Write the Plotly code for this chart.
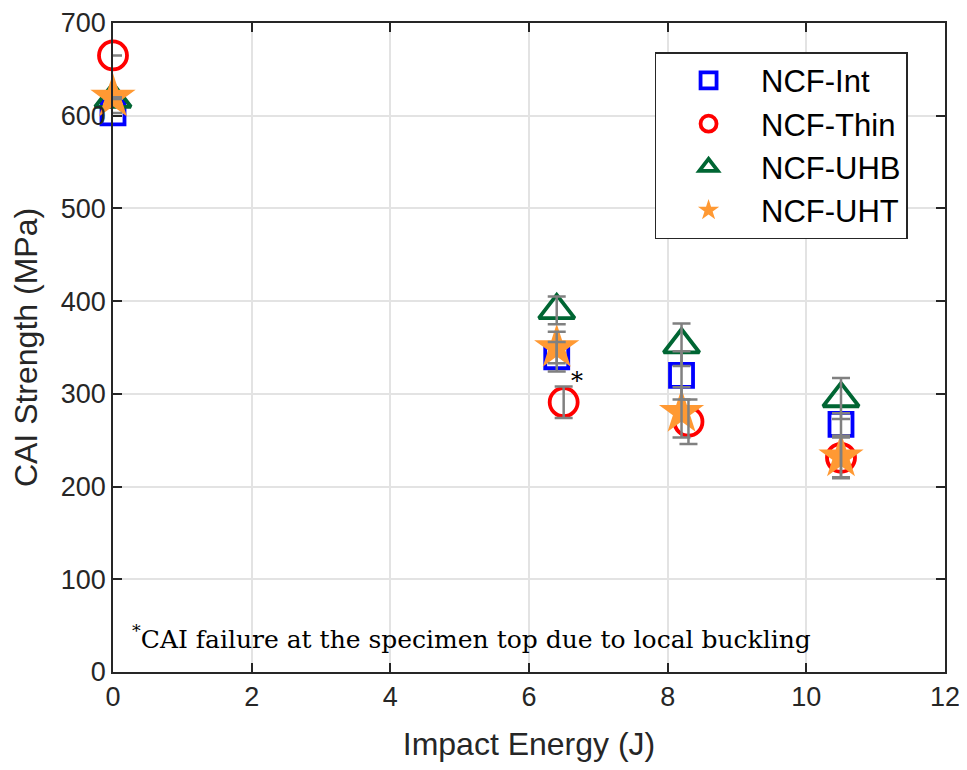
import plotly.graph_objects as go

# ---- data ----
x_int = [0, 6.4, 8.2, 10.5]
y_int = [603, 340, 320, 267]
e_int = [0, 16, 26, 12]

x_thin = [0, 6.5, 8.3, 10.5]
y_thin = [665, 291, 270, 231]
e_thin = [0, 17, 24, 22]

x_uhb = [0, 6.4, 8.2, 10.5]
y_uhb = [618, 390, 353, 295]
e_uhb = [0, 15, 23, 22]

x_uht = [0, 6.4, 8.2, 10.5]
y_uht = [620, 350, 280, 232]
e_uht = [0, 17, 27, 22]

names = ["NCF-Int", "NCF-Thin", "NCF-UHB", "NCF-UHT"]
xs = [x_int, x_thin, x_uhb, x_uht]
ys = [y_int, y_thin, y_uhb, y_uht]
es = [e_int, e_thin, e_uhb, e_uht]
colors = ["#0000FF", "#FF0000", "#006633", "#FF9933"]
symbols = ["square-open", "circle-open", "triangle-up-open", "star"]
sizes = [23, 28, 31, 34]

fig = go.Figure()
for n, x, y, c, s, sz in zip(names, xs, ys, colors, symbols, sizes):
    if s == "star":
        marker = dict(symbol=s, size=sz, color=c, line=dict(width=0))
    else:
        marker = dict(symbol=s, size=sz, color=c, line=dict(width=3.8, color=c))
    fig.add_trace(go.Scatter(x=x, y=y, mode="markers", name=n, marker=marker,
                             cliponaxis=False))

# error bars drawn on top of markers
for x, y, e in zip(xs, ys, es):
    fig.add_trace(go.Scatter(
        x=x, y=y, mode="markers", showlegend=False, hoverinfo="skip",
        marker=dict(size=1, opacity=0), cliponaxis=False,
        error_y=dict(type="data", array=e, visible=True, color="#808080",
                     thickness=2.5, width=9)))

fig.add_annotation(x=6.69, y=314, xref="x", yref="y", text="*", showarrow=False,
                   font=dict(family="DejaVu Serif", size=24, color="black"))
fig.add_annotation(x=0.02, y=37, xref="paper", yref="y", xanchor="left",
                   text="<sup>*</sup>CAI failure at the specimen top due to local buckling",
                   showarrow=False,
                   font=dict(family="DejaVu Serif", size=25, color="black"))

axis_common = dict(
    showgrid=True, gridcolor="#E3E3E3", gridwidth=1.5,
    showline=True, linecolor="#262626", linewidth=1.8, mirror="ticks",
    ticks="inside", ticklen=9, tickcolor="#262626", tickwidth=1.5,
    zeroline=False, automargin=False, ticklabeloverflow="allow",
    tickfont=dict(family="Liberation Sans, Arial", size=27, color="#262626"),
)

# page body has an 8px margin; figure sized so the plot area matches the reference
fig.update_layout(
    width=951, height=754,
    margin=dict(l=105, r=14, t=15, b=90),
    paper_bgcolor="white", plot_bgcolor="white",
    xaxis=dict(range=[0, 12], dtick=2,
               title=dict(text="Impact Energy (J)", standoff=22,
                          font=dict(family="Liberation Sans, Arial", size=32, color="#262626")),
               **axis_common),
    yaxis=dict(range=[0, 700], dtick=100,
               title=dict(text="CAI Strength (MPa)", standoff=13,
                          font=dict(family="Liberation Sans, Arial", size=32, color="#262626")),
               **axis_common),
    legend=dict(x=0.955, y=0.955, xanchor="right", yanchor="top",
                bgcolor="white", bordercolor="#262626", borderwidth=1.5,
                font=dict(family="Liberation Sans, Arial", size=31, color="black"),
                itemwidth=95, tracegroupgap=0),
)

fig.write_html("out.html")
